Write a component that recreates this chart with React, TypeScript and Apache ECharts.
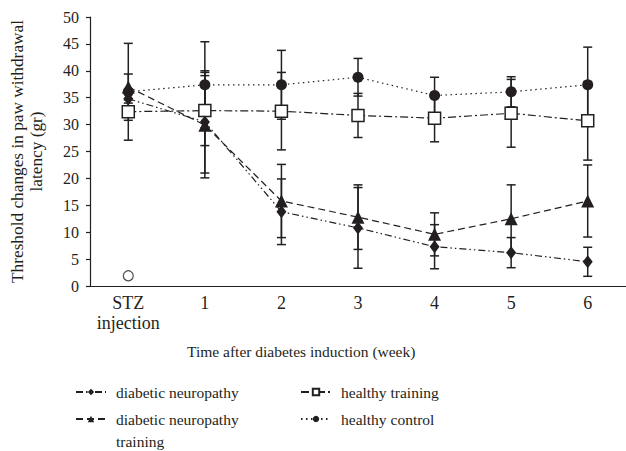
import React, { useEffect, useRef } from "react";
import * as echarts from "echarts";

const categories = ["STZ\ninjection", "1", "2", "3", "4", "5", "6"];
const yTicks = { min: 0, max: 50, interval: 5 };

const dnMean = [34.8, 30.5, 13.8, 10.8, 7.3, 6.2, 4.5];
const dnErr = [1.5, 9.5, 6.1, 7.5, 4.1, 2.8, 2.7];
const dntMean = [37.0, 29.9, 15.8, 12.8, 9.6, 12.5, 15.8];
const dntErr = [2.4, 9.8, 6.8, 6.0, 4.0, 6.3, 6.7];
const htMean = [32.4, 32.6, 32.5, 31.7, 31.2, 32.1, 30.7];
const htErr = [1.6, 6.5, 7.2, 4.1, 4.4, 6.3, 7.3];
const hcMean = [36.1, 37.4, 37.4, 38.8, 35.4, 36.1, 37.4];
const hcErr = [9.0, 8.0, 6.4, 3.5, 3.4, 2.8, 7.0];
const outlier = [[0, 1.9]];

const INK = "#231f20";
const FONT = "Liberation Serif";

function errData(mean: number[], err: number[]) {
  return mean.map((m, i) => [i, m - err[i], m + err[i]]);
}

function errorSeries(mean: number[], err: number[]) {
  return {
    type: "custom",
    z: 1,
    silent: true,
    data: errData(mean, err),
    renderItem: (params: any, api: any) => {
      const x = api.value(0);
      const top = api.coord([x, api.value(2)]);
      const bot = api.coord([x, api.value(1)]);
      const w = 4.5;
      const st = { stroke: INK, lineWidth: 1.5 };
      return {
        type: "group",
        children: [
          { type: "line", shape: { x1: top[0], y1: top[1], x2: bot[0], y2: bot[1] }, style: st },
          { type: "line", shape: { x1: top[0] - w, y1: top[1], x2: top[0] + w, y2: top[1] }, style: st },
          { type: "line", shape: { x1: bot[0] - w, y1: bot[1], x2: bot[0] + w, y2: bot[1] }, style: st },
        ],
      };
    },
  };
}

function lineSeries(name: string, data: number[], symbol: string, size: any, dash: number[], fill: string) {
  return {
    name,
    type: "line",
    z: 3,
    data,
    symbol,
    symbolSize: size,
    showAllSymbol: true,
    lineStyle: { color: INK, width: 1.2, type: dash },
    itemStyle: { color: fill, borderColor: INK, borderWidth: fill === "#ffffff" ? 1.5 : 0 },
    emphasis: { disabled: true },
    silent: true,
  };
}

const legendText = {
  fontFamily: FONT,
  fontSize: 15.5,
  color: INK,
  lineHeight: 22,
  padding: [0, 0, 0, 5],
};

function legend(name: string, left: number, top: number, formatter?: any) {
  return {
    data: [name],
    left,
    top,
    orient: "vertical",
    padding: 0,
    itemWidth: 30,
    itemHeight: 8,
    selectedMode: false,
    textStyle: legendText,
    formatter,
  };
}

export default function App() {
  const ref = useRef<HTMLDivElement>(null);
  useEffect(() => {
    const chart = echarts.init(ref.current!, null, { renderer: "svg" });
    chart.setOption({
      animation: false,
      backgroundColor: "#ffffff",
      grid: { left: 89, right: -4, top: 17, bottom: 165 },
      xAxis: {
        type: "category",
        data: categories,
        boundaryGap: true,
        axisLine: { show: true, lineStyle: { color: INK, width: 1.2 } },
        axisTick: { show: false },
        axisLabel: { interval: 0, fontFamily: FONT, fontSize: 18, color: INK, lineHeight: 20, margin: 7 },
      },
      yAxis: {
        type: "value",
        min: yTicks.min,
        max: yTicks.max,
        interval: yTicks.interval,
        name: "Threshold changes in paw withdrawal\nlatency (gr)",
        nameLocation: "middle",
        nameGap: 44,
        nameTextStyle: { fontFamily: FONT, fontSize: 17.3, color: INK, lineHeight: 19 },
        splitLine: { show: false },
        axisLine: { show: true, lineStyle: { color: INK, width: 1.2 } },
        axisTick: { show: true, inside: false, length: 4, lineStyle: { color: INK, width: 1.2 } },
        axisLabel: { fontFamily: FONT, fontSize: 16, color: INK, margin: 11 },
      },
      legend: [
        legend("diabetic neuropathy", 75, 381),
        legend("diabetic neuropathy training", 75, 386, () => " \ndiabetic neuropathy\ntraining"),
        legend("healthy training", 300, 381),
        legend("healthy control", 300, 408),
      ],
      graphic: [
        {
          type: "text",
          left: 187,
          top: 343,
          style: { text: "Time after diabetes induction (week)", font: `15.5px "${FONT}"`, fill: INK },
        },
      ],
      series: [
        errorSeries(hcMean, hcErr),
        errorSeries(htMean, htErr),
        errorSeries(dntMean, dntErr),
        errorSeries(dnMean, dnErr),
        lineSeries("healthy control", hcMean, "circle", 11, [1.5, 3.5], INK),
        lineSeries("healthy training", htMean, "rect", 12, [8, 3, 2, 3], "#ffffff"),
        lineSeries("diabetic neuropathy training", dntMean, "triangle", 13, [7, 4], INK),
        lineSeries("diabetic neuropathy", dnMean, "diamond", [10, 13], [7, 3, 1.5, 3, 1.5, 3], INK),
        {
          type: "scatter",
          z: 3,
          data: outlier,
          symbol: "circle",
          symbolSize: 10,
          itemStyle: { color: "#ffffff", borderColor: INK, borderWidth: 1.2 },
          silent: true,
        },
      ],
    });
    return () => chart.dispose();
  }, []);
  return (
    <div
      ref={ref}
      style={{ position: "fixed", left: 0, top: 0, width: 626, height: 451 }}
    />
  );
}
